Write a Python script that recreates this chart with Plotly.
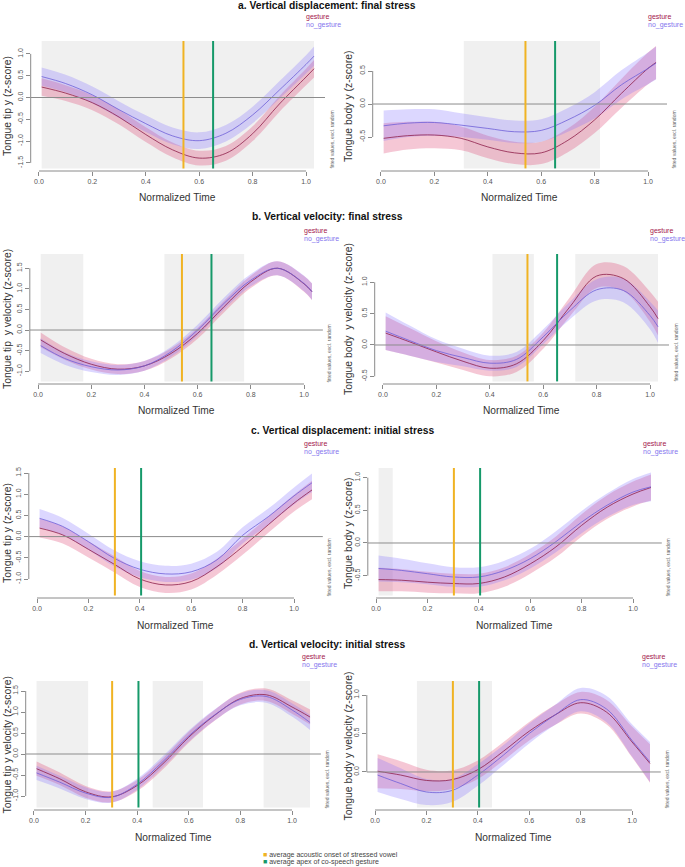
import plotly.graph_objects as go

W, H = 685, 867

# ---------------- data ----------------
time_ab = [0.01, 0.1, 0.2, 0.3, 0.4, 0.5, 0.6, 0.7, 0.8, 0.9, 1.0, 1.03]
time_cd = [0.01, 0.1, 0.2, 0.3, 0.4, 0.5, 0.6, 0.7, 0.8, 0.9, 1.0, 1.07]

# a. vertical displacement, final stress
a_tip_g = [0.24, 0.10, -0.12, -0.45, -0.85, -1.20, -1.39, -1.28, -0.83, -0.15, 0.47, 0.66]
a_tip_g_ci = [0.20, 0.18, 0.17, 0.17, 0.17, 0.17, 0.17, 0.17, 0.17, 0.18, 0.19, 0.20]
a_tip_n = [0.48, 0.32, 0.06, -0.28, -0.60, -0.88, -0.99, -0.82, -0.40, 0.17, 0.76, 0.95]
a_tip_n_ci = [0.21, 0.20, 0.19, 0.19, 0.19, 0.19, 0.19, 0.19, 0.19, 0.20, 0.21, 0.22]
a_body_g = [-0.52, -0.48, -0.47, -0.52, -0.65, -0.74, -0.74, -0.55, -0.24, 0.16, 0.54, 0.63]
a_body_g_ci = [0.23, 0.21, 0.20, 0.18, 0.17, 0.17, 0.17, 0.18, 0.20, 0.22, 0.24, 0.25]
a_body_n = [-0.33, -0.29, -0.28, -0.32, -0.37, -0.42, -0.40, -0.24, -0.02, 0.29, 0.54, 0.62]
a_body_n_ci = [0.23, 0.21, 0.20, 0.18, 0.17, 0.17, 0.17, 0.18, 0.20, 0.22, 0.24, 0.25]

# b. vertical velocity, final stress
b_tip_g = [-0.24, -0.57, -0.83, -0.95, -0.87, -0.57, -0.08, 0.57, 1.17, 1.50, 1.12, 0.93]
b_tip_g_ci = [0.18, 0.15, 0.13, 0.12, 0.12, 0.12, 0.13, 0.14, 0.15, 0.17, 0.19, 0.20]
b_tip_n = [-0.38, -0.69, -0.89, -0.97, -0.87, -0.53, 0.00, 0.65, 1.21, 1.50, 1.13, 0.93]
b_tip_n_ci = [0.18, 0.15, 0.13, 0.12, 0.12, 0.12, 0.13, 0.14, 0.15, 0.17, 0.19, 0.20]
b_body_g = [0.19, 0.05, -0.11, -0.26, -0.37, -0.30, 0.07, 0.61, 1.10, 1.06, 0.61, 0.42]
b_body_g_ci = [0.27, 0.22, 0.17, 0.14, 0.13, 0.13, 0.13, 0.15, 0.19, 0.20, 0.24, 0.27]
b_body_n = [0.22, 0.07, -0.09, -0.20, -0.29, -0.23, 0.13, 0.55, 0.88, 0.87, 0.47, 0.29]
b_body_n_ci = [0.30, 0.24, 0.18, 0.14, 0.12, 0.12, 0.12, 0.14, 0.17, 0.19, 0.22, 0.26]

# c. vertical displacement, initial stress
c_tip_g = [0.20, 0.04, -0.30, -0.65, -1.00, -1.14, -1.06, -0.71, -0.24, 0.28, 0.79, 1.10]
c_tip_g_ci = [0.22, 0.20, 0.19, 0.19, 0.19, 0.19, 0.19, 0.19, 0.19, 0.19, 0.20, 0.22]
c_tip_n = [0.43, 0.24, -0.12, -0.51, -0.77, -0.88, -0.83, -0.55, 0.03, 0.47, 0.96, 1.27]
c_tip_n_ci = [0.22, 0.20, 0.19, 0.19, 0.19, 0.19, 0.19, 0.19, 0.19, 0.19, 0.20, 0.22]
c_body_g = [-0.56, -0.57, -0.60, -0.62, -0.62, -0.52, -0.32, -0.06, 0.27, 0.55, 0.75, 0.85]
c_body_g_ci = [0.18, 0.17, 0.16, 0.15, 0.15, 0.15, 0.15, 0.16, 0.17, 0.18, 0.19, 0.20]
c_body_n = [-0.39, -0.42, -0.47, -0.52, -0.52, -0.42, -0.24, 0.02, 0.32, 0.58, 0.78, 0.86]
c_body_n_ci = [0.20, 0.18, 0.16, 0.15, 0.15, 0.15, 0.15, 0.16, 0.17, 0.18, 0.20, 0.22]

# d. vertical velocity, initial stress
d_tip_g = [-0.35, -0.59, -0.90, -1.02, -0.75, -0.23, 0.40, 0.92, 1.32, 1.41, 1.12, 0.88]
d_tip_g_ci = [0.17, 0.15, 0.14, 0.13, 0.13, 0.13, 0.13, 0.13, 0.14, 0.15, 0.16, 0.18]
d_tip_n = [-0.45, -0.67, -0.93, -1.03, -0.72, -0.18, 0.43, 0.93, 1.30, 1.37, 1.05, 0.75]
d_tip_n_ci = [0.17, 0.15, 0.14, 0.13, 0.13, 0.13, 0.13, 0.13, 0.14, 0.15, 0.16, 0.18]
d_body_g = [0.01, -0.04, -0.11, -0.10, 0.03, 0.27, 0.53, 0.74, 0.90, 0.78, 0.39, 0.11]
d_body_g_ci = [0.22, 0.18, 0.14, 0.12, 0.12, 0.12, 0.12, 0.13, 0.14, 0.16, 0.20, 0.25]
d_body_n = [-0.04, -0.15, -0.26, -0.24, -0.04, 0.22, 0.50, 0.74, 0.94, 0.82, 0.41, 0.13]
d_body_n_ci = [0.22, 0.20, 0.17, 0.15, 0.14, 0.13, 0.13, 0.13, 0.15, 0.17, 0.21, 0.26]

# significant-difference windows (grey)
a_tip_grey = [[0.01, 1.03]]
a_body_grey = [[0.31, 0.82]]
b_tip_grey = [[0.01, 0.17], [0.475, 0.775]]
b_body_grey = [[0.41, 0.565], [0.72, 1.03]]
c_tip_grey = []
c_body_grey = [[0.01, 0.065]]
d_tip_grey = [[0.01, 0.21], [0.46, 0.655], [0.89, 1.07]]
d_body_grey = [[0.163, 0.455]]

# reference lines
final_vowel_onset, final_gesture_apex = 0.541, 0.652
initial_vowel_onset, initial_gesture_apex = 0.303, 0.405

titles = ["a. Vertical displacement: final stress",
          "b. Vertical velocity: final stress",
          "c. Vertical displacement: initial stress",
          "d. Vertical velocity: initial stress"]
x_ticks = [0.0, 0.2, 0.4, 0.6, 0.8, 1.0]

# ---------------- styles / geometry ----------------
C_G_FILL = "rgba(222,70,115,0.30)"
C_N_FILL = "rgba(130,112,255,0.28)"
C_G_LINE = "#8E1F4A"
C_N_LINE = "#6F5FD8"
C_G_TXT = "#A3174C"
C_N_TXT = "#8575EE"
C_OR = "#F0B323"
C_GR = "#16996A"
GREY = "#F0F0F0"
AX = "#8a8a8a"
TXT = "#333333"
FONT = "Liberation Sans, Arial, sans-serif"

row_top = [41, 254, 468, 681]
row_bot = [171, 384, 598, 810]
title_y = [6, 216, 431, 644]
title_cx = [327, 327, 342, 327]
leg_y = [(17, 25), (231, 239), (444, 452), (657, 665)]

panels = [
    dict(r=0, L=30.7, R=325.0, t=time_ab, g=a_tip_g, gci=a_tip_g_ci, n=a_tip_n, nci=a_tip_n_ci,
         ylab="Tongue tip y (z-score)", yt=[-1.5, -1.0, -0.5, 0.0, 0.5, 1.0], yr=[-1.686, 1.296],
         grey=a_tip_grey, v=(final_vowel_onset, final_gesture_apex), xr=[-0.031, 1.071]),
    dict(r=0, L=372.7, R=667.0, t=time_ab, g=a_body_g, gci=a_body_g_ci, n=a_body_n, nci=a_body_n_ci,
         ylab="Tongue body y (z-score)", yt=[-0.5, 0.0, 0.5], yr=[-1.015, 0.955],
         grey=a_body_grey, v=(final_vowel_onset, final_gesture_apex), xr=[-0.031, 1.071]),
    dict(r=1, L=29.8, R=322.9, t=time_ab, g=b_tip_g, gci=b_tip_g_ci, n=b_tip_n, nci=b_tip_n_ci,
         ylab="Tongue tip\u00a0 y velocity (z-score)", yt=[-1.0, -0.5, 0.0, 0.5, 1.0, 1.5], yr=[-1.31, 1.845],
         grey=b_tip_grey, v=(final_vowel_onset, final_gesture_apex), xr=[-0.031, 1.071]),
    dict(r=1, L=374.7, R=669.0, t=time_ab, g=b_body_g, gci=b_body_g_ci, n=b_body_n, nci=b_body_n_ci,
         ylab="Tongue body\u00a0 y velocity (z-score)", yt=[-0.5, 0.0, 0.5, 1.0], yr=[-0.622, 1.451],
         grey=b_body_grey, v=(final_vowel_onset, final_gesture_apex), xr=[-0.031, 1.071]),
    dict(r=2, L=28.8, R=322.8, t=time_cd, g=c_tip_g, gci=c_tip_g_ci, n=c_tip_n, nci=c_tip_n_ci,
         ylab="Tongue tip y (z-score)", yt=[-1.0, -0.5, 0.0, 0.5, 1.0, 1.5], yr=[-1.448, 1.618],
         grey=c_tip_grey, v=(initial_vowel_onset, initial_gesture_apex), xr=[-0.032, 1.112]),
    dict(r=2, L=367.8, R=661.8, t=time_cd, g=c_body_g, gci=c_body_g_ci, n=c_body_n, nci=c_body_n_ci,
         ylab="Tongue body y (z-score)", yt=[-0.5, 0.0, 0.5, 1.0], yr=[-0.842, 1.148],
         grey=c_body_grey, v=(initial_vowel_onset, initial_gesture_apex), xr=[-0.032, 1.112]),
    dict(r=3, L=25.7, R=320.9, t=time_cd, g=d_tip_g, gci=d_tip_g_ci, n=d_tip_n, nci=d_tip_n_ci,
         ylab="Tongue tip y velocity (z-score)", yt=[-1.0, -0.5, 0.0, 0.5, 1.0, 1.5], yr=[-1.333, 1.738],
         grey=d_tip_grey, v=(initial_vowel_onset, initial_gesture_apex), xr=[-0.032, 1.112]),
    dict(r=3, L=366.8, R=660.8, t=time_cd, g=d_body_g, gci=d_body_g_ci, n=d_body_n, nci=d_body_n_ci,
         ylab="Tongue body y velocity (z-score)", yt=[0.0, 0.5, 1.0], yr=[-0.494, 1.182],
         grey=d_body_grey, v=(initial_vowel_onset, initial_gesture_apex), xr=[-0.032, 1.112]),
]


def px(x):
    return x / W


def py(y):
    return 1 - y / H


fig = go.Figure()
shapes = []
annotations = []
layout = {}

for i, p in enumerate(panels):
    k = i + 1
    xa = "x" if k == 1 else f"x{k}"
    ya = "y" if k == 1 else f"y{k}"
    T, B = row_top[p["r"]], row_bot[p["r"]]

    for mean, ci, fill, line in ((p["g"], p["gci"], C_G_FILL, C_G_LINE),
                                 (p["n"], p["nci"], C_N_FILL, C_N_LINE)):
        lo = [m - c for m, c in zip(mean, ci)]
        hi = [m + c for m, c in zip(mean, ci)]
        fig.add_trace(go.Scatter(x=p["t"], y=lo, xaxis=xa, yaxis=ya, mode="lines",
                                 line=dict(width=0, shape="spline", color=fill),
                                 hoverinfo="skip", showlegend=False))
        fig.add_trace(go.Scatter(x=p["t"], y=hi, xaxis=xa, yaxis=ya, mode="lines",
                                 line=dict(width=0, shape="spline", color=fill),
                                 fill="tonexty", fillcolor=fill,
                                 hoverinfo="skip", showlegend=False))
    for mean, line in ((p["g"], C_G_LINE), (p["n"], C_N_LINE)):
        fig.add_trace(go.Scatter(x=p["t"], y=mean, xaxis=xa, yaxis=ya, mode="lines",
                                 line=dict(width=0.8, shape="spline", color=line),
                                 hoverinfo="skip", showlegend=False))

    xname = "xaxis" if k == 1 else f"xaxis{k}"
    yname = "yaxis" if k == 1 else f"yaxis{k}"
    layout[xname] = dict(domain=[px(p["L"]), px(p["R"])], range=p["xr"], anchor=ya,
                         tickvals=x_ticks, ticktext=[f"{v:.1f}" for v in x_ticks],
                         ticks="outside", ticklen=4, tickcolor=AX, tickwidth=1,
                         tickfont=dict(size=7, color="#555", family=FONT),
                         showgrid=False, zeroline=False, showline=False, fixedrange=True)
    layout[yname] = dict(domain=[py(B), py(T)], range=p["yr"], anchor=xa,
                         tickvals=p["yt"], ticktext=[f"{v:.1f}" for v in p["yt"]],
                         tickangle=-90,
                         ticks="outside", ticklen=4, tickcolor=AX, tickwidth=1,
                         tickfont=dict(size=7, color="#555", family=FONT),
                         showgrid=False, zeroline=False, showline=False, fixedrange=True)

    # grey significance windows
    for g0, g1 in p["grey"]:
        shapes.append(dict(type="rect", xref=xa, yref=f"{ya} domain", x0=g0, x1=g1, y0=0.02, y1=1,
                           fillcolor=GREY, line=dict(width=0), layer="below"))
    # axis lines (R style, tick span only)
    shapes.append(dict(type="line", xref=xa, yref=f"{ya} domain", x0=x_ticks[0], x1=x_ticks[-1],
                       y0=0, y1=0, line=dict(color=AX, width=1)))
    shapes.append(dict(type="line", xref=f"{xa} domain", yref=ya, x0=0, x1=0,
                       y0=p["yt"][0], y1=p["yt"][-1], line=dict(color=AX, width=1)))
    # zero line
    shapes.append(dict(type="line", xref=f"{xa} domain", yref=ya, x0=0, x1=1, y0=0, y1=0,
                       line=dict(color="#8c8c8c", width=1), layer="above"))
    # vertical reference lines
    for xv, col in zip(p["v"], (C_OR, C_GR)):
        shapes.append(dict(type="line", xref=xa, yref=f"{ya} domain", x0=xv, x1=xv, y0=0.02, y1=1,
                           line=dict(color=col, width=2), layer="above"))

    # axis titles
    annotations.append(dict(text="Normalized Time", x=px((p["L"] + p["R"]) / 2), y=py(B + 27),
                            xref="paper", yref="paper", showarrow=False, xanchor="center", yanchor="middle",
                            font=dict(size=10.2, color=TXT, family=FONT)))
    ytx = 7 if p["L"] < 200 else 348
    annotations.append(dict(text=p["ylab"], x=px(ytx), y=py((T + B) / 2), textangle=-90,
                            xref="paper", yref="paper", showarrow=False, xanchor="center", yanchor="middle",
                            font=dict(size=10.4, color=TXT, family=FONT)))
    # legend texts
    ly = leg_y[p["r"]]
    annotations.append(dict(text="gesture", x=px(p["R"] - 21), y=py(ly[0]), xref="paper", yref="paper",
                            showarrow=False, xanchor="left", yanchor="middle",
                            font=dict(size=7, color=C_G_TXT, family=FONT)))
    annotations.append(dict(text="no_gesture", x=px(p["R"] - 21), y=py(ly[1]), xref="paper", yref="paper",
                            showarrow=False, xanchor="left", yanchor="middle",
                            font=dict(size=7, color=C_N_TXT, family=FONT)))
    # fitted values note
    annotations.append(dict(text="fitted values, excl. random", x=px(p["R"] + 6.5), y=py(B),
                            textangle=-90, xref="paper", yref="paper", showarrow=False,
                            xanchor="center", yanchor="bottom",
                            font=dict(size=5, color="#666", family=FONT)))

for r in range(4):
    annotations.append(dict(text=f"<b>{titles[r]}</b>", x=px(title_cx[r]), y=py(title_y[r]),
                            xref="paper", yref="paper", showarrow=False, xanchor="center", yanchor="middle",
                            font=dict(size=10.3, color="#111", family=FONT)))

annotations.append(dict(text=f"<span style='color:{C_OR}'>■</span> average acoustic onset of stressed vowel",
                        x=px(261), y=py(855), xref="paper", yref="paper", showarrow=False,
                        xanchor="left", yanchor="middle", font=dict(size=7, color="#444", family=FONT)))
annotations.append(dict(text=f"<span style='color:{C_GR}'>■</span> average apex of co-speech gesture",
                        x=px(261), y=py(862), xref="paper", yref="paper", showarrow=False,
                        xanchor="left", yanchor="middle", font=dict(size=7, color="#444", family=FONT)))

fig.update_layout(width=W, height=H, autosize=False, margin=dict(l=0, r=0, t=0, b=0, pad=0),
                  paper_bgcolor="white", plot_bgcolor="white", showlegend=False,
                  shapes=shapes, annotations=annotations, **layout)

fig.write_html("out.html", config={"displayModeBar": False, "staticPlot": True},
               post_script="document.body.style.margin='0px';document.body.style.overflow='hidden';")
